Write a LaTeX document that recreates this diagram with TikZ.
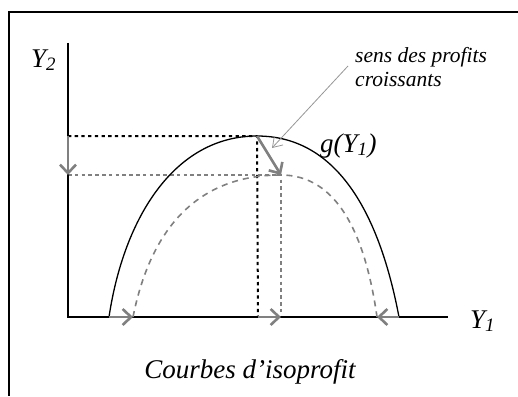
\documentclass[tikz,border=0pt]{standalone}
\usepackage{fontspec}
\setmainfont{Liberation Serif}
\usetikzlibrary{arrows.meta}
\definecolor{arrgray}{RGB}{128,128,128}
\definecolor{thingray}{RGB}{150,150,150}
\tikzset{
  axisline/.style={line width=1.2pt,black},
  frameline/.style={line width=2.4pt,black},
  bigarrow/.style={line width=2.6pt,arrgray,-{Straight Barb[length=8.5pt,width=16pt,line width=2.6pt]}},
  thinarrow/.style={line width=0.8pt,thingray,-{Straight Barb[length=9pt,width=12pt,line width=0.8pt]}},
  blackdot/.style={line width=2pt,black,dash pattern=on 3.3pt off 3.4pt},
  graydot/.style={line width=1.6pt,arrgray,dash pattern=on 3.5pt off 3.3pt},
  graydash/.style={line width=1.6pt,arrgray,dash pattern=on 6pt off 5pt},
  lbl/.style={inner sep=0pt,font=\fontsize{27}{31}\selectfont\itshape},
  small/.style={inner sep=0pt,font=\fontsize{21.5}{24}\selectfont\itshape,align=left}
}
\begin{document}
\begin{tikzpicture}[x=1pt,y=-1pt]
\useasboundingbox (0,0) rectangle (518,396);
% frame
\draw[frameline] (518,12) -- (9,12) -- (9,396);
% coordinates
\coordinate (O) at (68,317);
\coordinate (Ytop) at (68,43);
\coordinate (Xend) at (448,317);
\coordinate (P) at (257,136);
\coordinate (Q) at (281,175);
\coordinate (Ya) at (68,136);
\coordinate (Yb) at (68,175);
\coordinate (Pb) at (258,317);
\coordinate (Qb) at (281,317);
\coordinate (L1) at (109,317);
\coordinate (L2) at (133,317);
\coordinate (R1) at (399,317);
\coordinate (R2) at (377,317);
% dotted guides
\draw[blackdot] (Ya) -- (P) -- (Pb);
\draw[graydot] (Yb) -- (Q) -- (Qb);
% axes
\draw[axisline] (Ytop) -- (O) -- (Xend);
% solid curve g(Y1)
\draw[line width=1.3pt,black] (L1) .. controls (124,217) and (175,136) .. (P)
  .. controls (339,136) and (380,217) .. (R1);
% dashed curve
\draw[graydash] (L2) .. controls (149,237) and (191,175) .. (Q)
  .. controls (336,175) and (365,232) .. (R2);
% gray arrows
\draw[bigarrow] (Ya) -- (Yb);
\draw[bigarrow] (P) -- (Q);
\draw[bigarrow] (L1) -- (L2);
\draw[bigarrow] (Pb) -- (Qb);
\draw[bigarrow] (R1) -- (R2);
% labels
\node[lbl,anchor=base west] (y2) at (31,67) {Y\textsubscript{2}};
\node[lbl,anchor=base west] (y1) at (470,328) {Y\textsubscript{1}};
\node[lbl,anchor=base west] (g) at (320,152) {g(Y\textsubscript{1})};
\node[lbl,anchor=base] (title) at (250,378) {Courbes d’isoprofit};
\node[small,anchor=base west] (sens) at (355,62) {sens des profits};
\node[small,anchor=base west] (crois) at (355,86) {croissants};
\coordinate (annStart) at (348,66);
\coordinate (annEnd) at (272,148);
\draw[thinarrow] (annStart) -- (annEnd);
\end{tikzpicture}
\end{document}
